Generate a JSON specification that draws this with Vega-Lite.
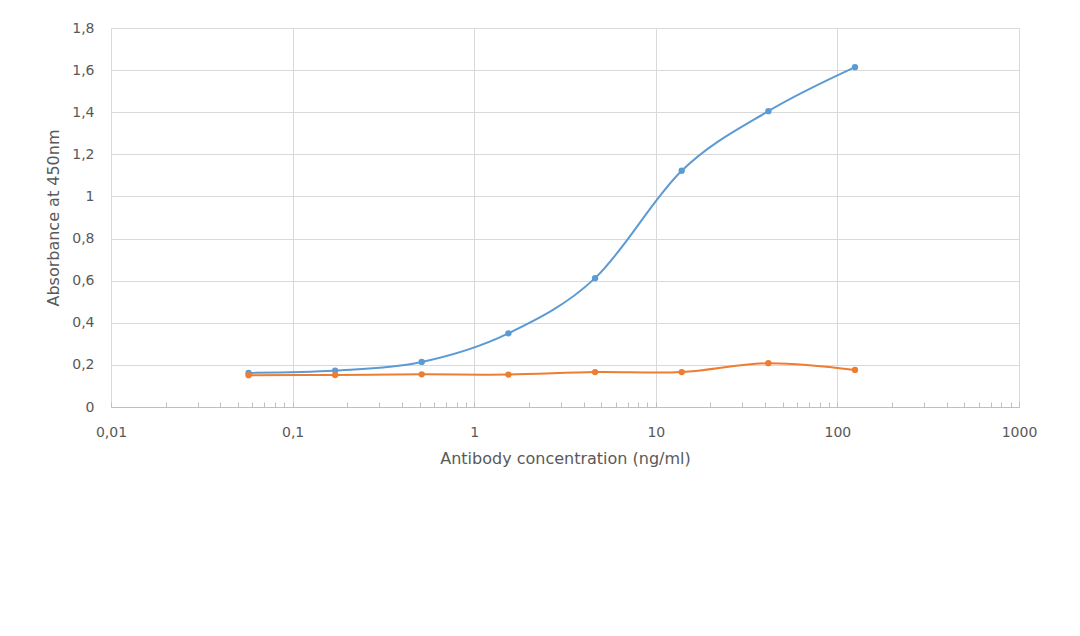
{
  "$schema": "https://vega.github.io/schema/vega-lite/v6.json",
  "autosize": "none",
  "width": 908,
  "height": 379,
  "padding": {"left": 111, "top": 28, "right": 61, "bottom": 229},
  "background": "white",
  "config": {
    "view": {"stroke": null},
    "font": "DejaVu Sans",
    "axis": {"labelFont": "DejaVu Sans", "titleFont": "DejaVu Sans", "labelColor": "#595959", "titleColor": "#595959", "labelFontSize": 14, "titleFontSize": 16, "titleFontWeight": "normal", "gridColor": "#d9d9d9", "gridWidth": 1}
  },
  "data": {
    "values": [
      {"conc": 0.0572, "abs": 0.162, "series": "A"},
      {"conc": 0.1715, "abs": 0.173, "series": "A"},
      {"conc": 0.514, "abs": 0.214, "series": "A"},
      {"conc": 1.543, "abs": 0.350, "series": "A"},
      {"conc": 4.63, "abs": 0.612, "series": "A"},
      {"conc": 13.89, "abs": 1.122, "series": "A"},
      {"conc": 41.67, "abs": 1.405, "series": "A"},
      {"conc": 125, "abs": 1.614, "series": "A"},
      {"conc": 0.0572, "abs": 0.151, "series": "B"},
      {"conc": 0.1715, "abs": 0.152, "series": "B"},
      {"conc": 0.514, "abs": 0.155, "series": "B"},
      {"conc": 1.543, "abs": 0.154, "series": "B"},
      {"conc": 4.63, "abs": 0.166, "series": "B"},
      {"conc": 13.89, "abs": 0.166, "series": "B"},
      {"conc": 41.67, "abs": 0.208, "series": "B"},
      {"conc": 125, "abs": 0.176, "series": "B"}
    ]
  },
  "encoding": {
    "x": {
      "field": "conc", "type": "quantitative",
      "scale": {"type": "log", "domain": [0.01, 1000], "nice": false},
      "axis": {
        "title": "Antibody concentration (ng/ml)",
        "values": [0.01,0.02,0.03,0.04,0.05,0.06,0.07,0.08,0.09,0.1,0.2,0.3,0.4,0.5,0.6,0.7,0.8,0.9,1,2,3,4,5,6,7,8,9,10,20,30,40,50,60,70,80,90,100,200,300,400,500,600,700,800,900,1000],
        "labelExpr": "indexof([0.01,0.1,1,10,100,1000], datum.value) >= 0 ? replace(toString(datum.value), '.', ',') : ''",
        "gridOpacity": {"condition": {"test": "indexof([0.01,0.1,1,10,100,1000], datum.value) >= 0", "value": 1}, "value": 0},
        "ticks": true,
        "tickSize": -5,
        "tickColor": "#bfbfbf",
        "domainColor": "#bfbfbf",
        "labelPadding": 23,
        "labelFlush": false,
        "labelOverlap": false,
        "titlePadding": 11
      }
    },
    "y": {
      "field": "abs", "type": "quantitative",
      "scale": {"domain": [0, 1.8], "nice": false, "zero": true},
      "axis": {
        "title": "Absorbance at 450nm",
        "values": [0, 0.2, 0.4, 0.6, 0.8, 1, 1.2, 1.4, 1.6, 1.8],
        "labelExpr": "replace(toString(datum.value), '.', ',')",
        "domain": false,
        "ticks": false,
        "labelPadding": 17,
        "titlePadding": 10
      }
    },
    "color": {
      "field": "series", "type": "nominal",
      "scale": {"domain": ["A", "B"], "range": ["#5B9BD5", "#ED7D31"]},
      "legend": null
    }
  },
  "layer": [
    {"mark": {"type": "line", "interpolate": "cardinal", "strokeWidth": 2}},
    {"mark": {"type": "circle", "size": 40, "opacity": 1}}
  ]
}
